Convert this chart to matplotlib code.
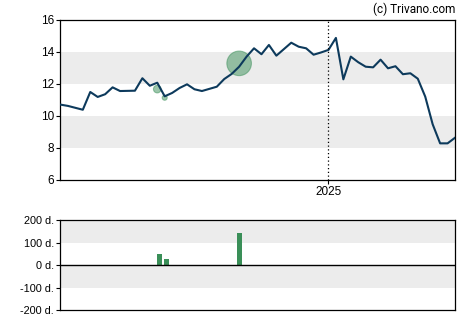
import numpy as np
import pandas as pd
import matplotlib
matplotlib.use("Agg")
import matplotlib.pyplot as plt
import matplotlib.dates as mdates

START = pd.Timestamp("2024-04-24")

# weekly closing prices (week offset from START, price)
weeks = [0, 1, 3, 4, 5, 6, 7, 8, 10, 11, 12, 13, 14, 15, 16, 17, 18, 19, 21, 22,
         23, 24, 25, 26, 27, 28, 29, 31, 32, 33, 34, 35, 36, 37, 38, 39, 40, 41,
         42, 43, 44, 45, 46, 47, 48, 49, 50, 51, 52, 53]
prices = [10.71, 10.63, 10.39, 11.50, 11.19, 11.36, 11.79, 11.56, 11.58, 12.36,
          11.89, 12.08, 11.23, 11.44, 11.75, 11.98, 11.67, 11.56, 11.83, 12.31,
          12.63, 13.08, 13.71, 14.23, 13.86, 14.44, 13.77, 14.58, 14.33, 14.23,
          13.83, 13.97, 14.13, 14.88, 12.29, 13.71, 13.36, 13.08, 13.04, 13.52,
          12.98, 13.11, 12.61, 12.67, 12.33, 11.21, 9.48, 8.29, 8.29, 8.64]

# trade bubbles (date, price, marker area)
bubble_dates = ["2024-07-24", "2024-07-31", "2024-10-09"]
bubble_prices = [11.68, 11.14, 13.29]
bubble_sizes = [30, 13, 313]

# bottom panel bars (date, days)
bar_dates = ["2024-07-26", "2024-08-02", "2024-10-09"]
bar_values = [50, 28, 145]

price_ticks = [6, 8, 10, 12, 14, 16]
day_ticks = [-200, -100, 0, 100, 200]
day_labels = ["-200 d.", "-100 d.", "0 d.", "100 d.", "200 d."]

LINE = "#0d3a5c"
GREEN = "#3a8f58"
BAND = "#ececec"

plt.rcParams["font.family"] = ["Liberation Sans", "DejaVu Sans"]

dates = [START + pd.Timedelta(weeks=w) for w in weeks]
x0, x1 = dates[0], dates[-1]

fig = plt.figure(figsize=(4.7, 3.25), dpi=100)
ax = fig.add_axes([0.1287, 0.4462, 0.8394, 0.4923])
ax2 = fig.add_axes([0.1287, 0.0462, 0.8394, 0.276])

# price panel
ax.axhspan(12, 14, color=BAND, lw=0, zorder=0)
ax.axhspan(8, 10, color=BAND, lw=0, zorder=0)
ax.scatter(pd.to_datetime(bubble_dates), bubble_prices, s=bubble_sizes,
           color=GREEN, alpha=0.5, edgecolors=GREEN, linewidths=0.8, zorder=2)
ax.plot(dates, prices, color=LINE, lw=1.5, zorder=3)
ax.axvline(pd.Timestamp("2025-01-01"), color="black", ls=(0, (1, 2)), lw=0.9, zorder=4)
ax.set_xlim(x0, x1)
ax.set_ylim(6, 16)
ax.set_yticks(price_ticks)
ax.set_xticks([pd.Timestamp("2025-01-01")])
ax.xaxis.set_major_formatter(mdates.DateFormatter("%Y"))
ax.tick_params(axis="both", length=3, width=0.8, labelsize=8.5, pad=1.5)

# days panel
ax2.axhspan(100, 200, color=BAND, lw=0, zorder=0)
ax2.axhspan(-100, 0, color=BAND, lw=0, zorder=0)
ax2.bar(pd.to_datetime(bar_dates), bar_values, width=4.6, color=GREEN, zorder=2)
ax2.axhline(0, color="black", lw=1, zorder=3)
ax2.set_xlim(x0, x1)
ax2.set_ylim(-200, 200)
ax2.set_yticks(day_ticks)
ax2.set_yticklabels(day_labels)
ax2.set_xticks([])
ax2.tick_params(axis="y", length=3, width=0.8, labelsize=7.8, pad=1.5)

for a in (ax, ax2):
    for s in a.spines.values():
        s.set_linewidth(0.9)

fig.text(0.968, 0.972, "(c) Trivano.com", ha="right", va="center", fontsize=8.5,
         family=["Roboto", "DejaVu Sans"])

fig.savefig("out.png", dpi=100)
